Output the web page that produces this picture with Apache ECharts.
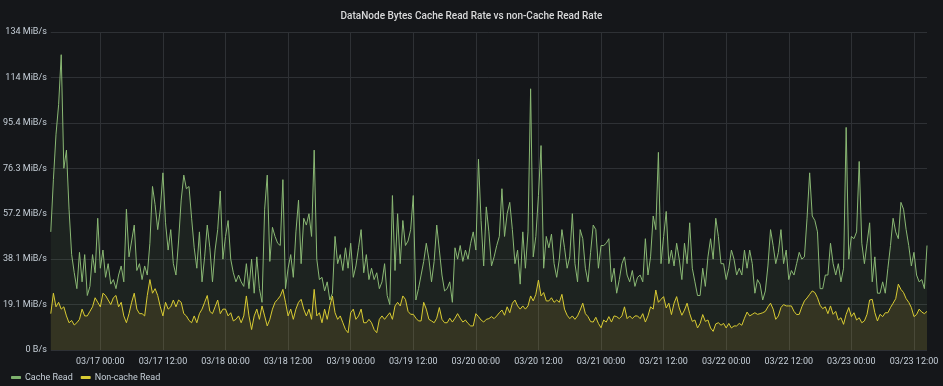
<!DOCTYPE html>
<html>
<head>
<meta charset="utf-8">
<script src="https://cdn.jsdelivr.net/npm/echarts@6/dist/echarts.min.js"></script>
<style>
html,body{margin:0;padding:0;background:#15171a;}
#c{width:943px;height:386px;}
</style>
</head>
<body>
<div id="c"></div>
<script>
// values in MB/s (1e6 bytes), sampled every 30 minutes from 03/16 14:30
const startTime = Date.UTC(2021, 2, 16, 14, 30);
const stepMinutes = 30;

const cacheRead = [
52,75,95,108,130,80,88,62,42,34,
27,43,30,42,24,28,42,34,58,36,
44,32,38,29,31,27,33,37,30,62,
41,48,55,35,38,31,37,33,47,72,
64,53,62,78,56,44,53,38,33,48,
66,77,71,72,58,45,36,52,30,41,
55,45,30,44,53,70,40,50,
57,40,
34,30,33,30,28,38,27,40,25,41,
27,21,62,77,39,54,50,47,46,75,
27,36,42,32,52,66,38,58,55,60,
50,88,40,31,32,26,30,22,25,50,
38,42,35,45,36,47,32,37,45,53,
34,42,31,36,31,34,27,30,38,24,
20,68,35,60,
38,57,46,48,53,68,
22,27,33,39,47,40,30,39,55,44,
33,26,27,30,21,45,40,46,39,44,
40,47,52,44,84,57,37,63,52,37,
41,46,50,71,50,60,65,53,38,44,
29,52,36,52,115,41,50,68,90,36,
50,45,51,38,32,40,53,45,36,41,
60,38,
30,53,49,36,30,43,55,53,
36,46,46,47,49,30,36,25,31,38,
41,33,30,35,28,32,33,30,49,33,
41,59,53,87,38,50,61,38,44,37,
47,40,31,47,38,56,36,30,24,24,
36,28,41,49,40,58,50,38,38,31,
36,44,40,33,36,33,44,36,44,
38,25,31,29,22,26,37,53,46,38,43,
53,38,44,31,35,33,38,43,40,41,
58,78,59,57,52,27,27,33,33,47,
38,33,38,30,36,98,40,50,49,52,
83,47,38,47,56,30,41,25,25,30,
25,36,46,58,52,49,65,62,53,46,
37,43,33,30,31,27,46
];

const nonCacheRead = [
16,25,19,21,18,19,15,12,13,11,
12,13.5,18,15,15,17,19,23,21,19,
25,24,22,20,23,24,19,21,15,12,
16,21,25,18,16,16,15,24,31,25,
27,24,19,15,21,18,19,22,19,22,
21,16,15,13,12,15,12,16,18,21,
24,17,16,19,22,16,18,18,
15,16.4,
12.8,13.5,15,12,15,23.8,15,9,15,18,
13.5,19.4,15,10.6,13.5,18,21,22.3,23.8,26.7,
21,15,18,13.5,18,21,22.3,18,15,18,
13.5,26.7,15,16.4,12,18,13.5,19.4,23.8,16.4,
13.5,15,12,9,7.6,16.4,18,13.5,15,18,
12,12,13.5,12,9,7.6,13.5,15,13.5,15,
16.4,13.5,19.4,21,
19.4,23.8,22.3,17,15.7,15.7,
14,12.8,12.8,21,18,13.5,12.8,12,14,18.7,
13.5,12,12,14,12.3,14,16,14,12.3,13.2,
11.7,10.6,10.6,16,14.7,13.2,12.3,13.5,13.8,14.7,
13.8,15,16.4,17.6,15.3,19,16.4,20.6,22,19.4,
18,19.4,18,19.4,23.8,21.6,24.5,30.8,23.8,25.3,
21.6,21.6,23,21,22,21,24.5,18,15.3,13.8,
15,13.5,
15,17.6,20.6,16,14.7,12.5,12.3,14.4,
11.7,9.8,13.2,12.3,14.7,12.3,15,14.7,13.8,15,
19,13.8,15,13.8,15,15,13.8,16,12.3,15,
19,18,26.4,21,22.3,23.5,18.5,20.6,15.6,20.6,
23.5,18.5,15.3,17.6,20.6,16,12.6,13.2,9.7,11.7,
15.6,12.6,13.2,9.7,8.2,11.5,12,10.9,11.7,9.7,
11.7,9.7,10.6,10.6,11.7,10.9,14,16.7,15,
15.7,16.4,15.7,16,16.4,17,19,20.6,18,13.5,15,
18.7,20,19.4,19.4,19.4,17,15.6,15.7,19,21.6,
22.9,24.5,26,25.3,23,19.7,18.2,19,16,19.4,
15.7,17,13.2,14.2,11.3,15.7,18.7,14.7,16.4,13.2,
14.2,12,12.8,15.7,22,22.3,16.4,12.8,15.7,14.7,
16.4,16.4,18.7,20.6,22.6,29,26.7,25.3,22.6,21,
18.7,14.7,15.6,18,16.7,16,17
];

const yTickLabels = ['0 B/s','19.1 MiB/s','38.1 MiB/s','57.2 MiB/s','76.3 MiB/s','95.4 MiB/s','114 MiB/s','134 MiB/s'];
const seriesNames = ['Cache Read', 'Non-cache Read'];
const titleText = 'DataNode Bytes Cache Read Rate vs non-Cache Read Rate';

function pad(n){ return (n < 10 ? '0' : '') + n; }
const categories = cacheRead.map((_, i) => {
  const d = new Date(startTime + i * stepMinutes * 60000);
  return pad(d.getUTCMonth() + 1) + '/' + pad(d.getUTCDate()) + ' ' + pad(d.getUTCHours()) + ':' + pad(d.getUTCMinutes());
});
const isMajor = (idx) => {
  const s = categories[idx];
  return s && (s.endsWith('00:00') || s.endsWith('12:00'));
};

const chart = echarts.init(document.getElementById('c'));
const FONT = 'Roboto, "Noto Sans", sans-serif';
chart.setOption({
  backgroundColor: '#15171a',
  animation: false,
  textStyle: { fontFamily: FONT },
  title: {
    text: titleText,
    left: 'center',
    top: 6,
    textStyle: { color: '#d8d9da', fontSize: 10, fontWeight: 500, fontFamily: FONT }
  },
  legend: {
    data: seriesNames,
    left: 6,
    top: 368,
    icon: 'roundRect',
    itemWidth: 10,
    itemHeight: 3,
    itemGap: 8,
    textStyle: { color: '#c7d0d9', fontSize: 9, padding: [0, 0, 0, -1] }
  },
  grid: { left: 42, right: 16, top: 32, bottom: 36, containLabel: false },
  xAxis: {
    type: 'category',
    data: categories,
    boundaryGap: false,
    axisLine: { show: false },
    axisTick: { show: false },
    axisLabel: {
      color: '#c7d0d9', fontSize: 9, margin: 7,
      interval: (idx) => isMajor(idx)
    },
    splitLine: {
      show: true,
      interval: (idx) => isMajor(idx),
      lineStyle: { color: '#2e3135', width: 1 }
    }
  },
  yAxis: {
    type: 'value',
    min: 0, max: 140, interval: 20,
    axisLine: { show: false },
    axisTick: { show: false },
    axisLabel: {
      color: '#c7d0d9', fontSize: 9, margin: 4,
      formatter: (v) => yTickLabels[Math.round(v / 20)]
    },
    splitLine: { lineStyle: { color: '#2e3135', width: 1 } }
  },
  series: [
    {
      name: seriesNames[0],
      type: 'line',
      data: cacheRead,
      showSymbol: false,
      symbol: 'none',
      color: '#7eb26d',
      lineStyle: { color: '#8ab874', width: 1 },
      areaStyle: { color: 'rgba(126,178,109,0.11)' },
      z: 2
    },
    {
      name: seriesNames[1],
      type: 'line',
      data: nonCacheRead,
      showSymbol: false,
      symbol: 'none',
      color: '#d9cc33',
      lineStyle: { color: '#d9cc33', width: 1 },
      areaStyle: { color: 'rgba(234,184,57,0.16)' },
      z: 3
    }
  ]
});
</script>
</body>
</html>
